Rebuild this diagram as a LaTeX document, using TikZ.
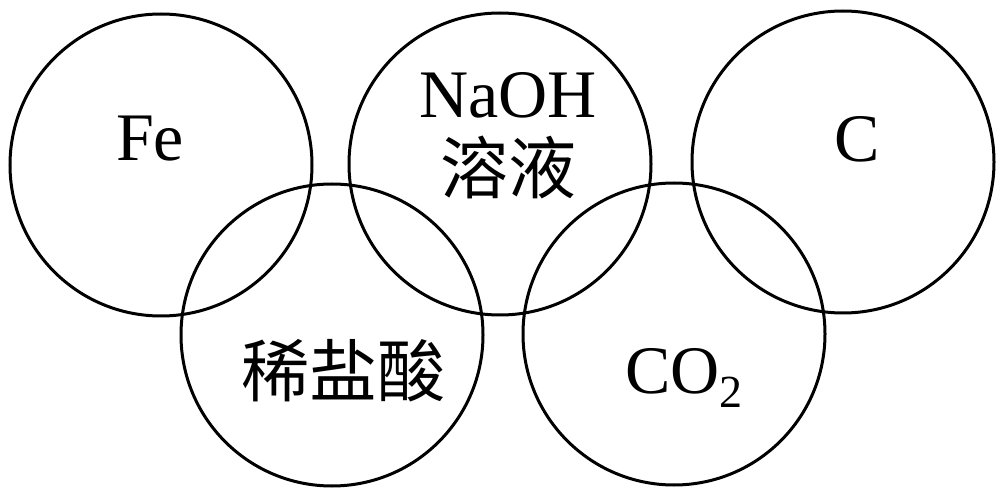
\documentclass[tikz,border=0pt]{standalone}
\usepackage{fontspec}
\setmainfont{Liberation Serif}
\newfontfamily\cjk{Noto Sans CJK SC}
\usetikzlibrary{shapes}
\tikzset{
	ring/.style = {
		circle,
		draw=black,
		line width=3pt,
		inner sep=0pt,
		minimum size=302pt
	},
	lbl/.style = {
		align=center,
		inner sep=0pt,
		font=\fontsize{68}{76}\selectfont
	},
}

\begin{document}
\begin{tikzpicture}[x=1pt,y=-1pt]
\useasboundingbox (0,0) rectangle (1005,497);
% the five rings
\node [ring] (fe) at (161,165) {};
\node [ring] (acid) at (332,335) {};
\node [ring] (naoh) at (500,164) {};
\node [ring] (co2) at (674,334) {};
\node [ring] (c) at (843,162) {};
% labels
\node [lbl] (fe_l) at (150,139) {Fe};
\node [lbl] (naoh_l) at (508,136) {NaOH\\{\cjk 溶液}};
\node [lbl] (c_l) at (857,139) {C};
\node [lbl] (acid_l) at (343,371) {\cjk 稀盐酸};
\node [lbl, anchor=base west] (co2_l) at (625,393) {CO\raisebox{-0.22em}{\fontsize{46}{46}\selectfont 2}};
\end{tikzpicture}
\end{document}
